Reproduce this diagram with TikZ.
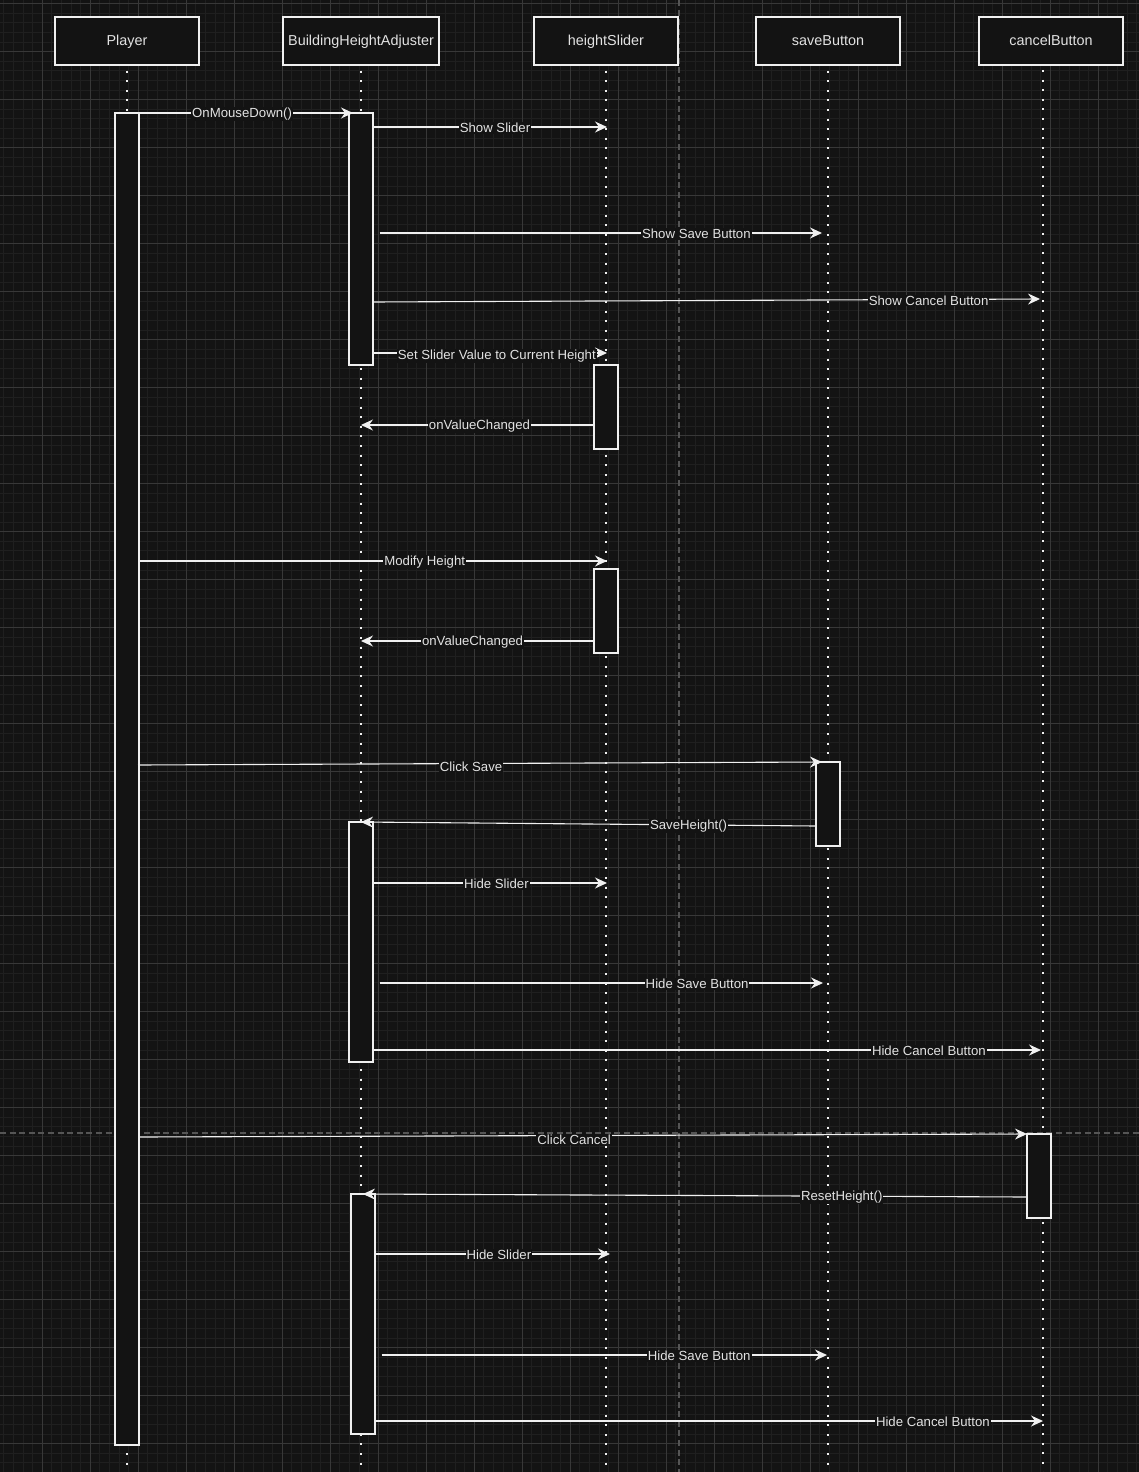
\documentclass[tikz,border=0pt]{standalone}
\usepackage{fontspec}
\setmainfont{Liberation Sans}
\usetikzlibrary{arrows.meta}
\definecolor{bgcol}{HTML}{131313}
\definecolor{gridminor}{HTML}{1F1F1F}
\definecolor{gridmajor}{HTML}{383838}
\definecolor{brkcol}{HTML}{555555}
\definecolor{linecol}{HTML}{F0F0F0}
\definecolor{txtcol}{HTML}{E2E2E2}

\begin{document}
\begin{tikzpicture}[x=1pt,y=-1pt,
  head/.style={draw=linecol, line width=1.3pt, fill=bgcol, minimum width=144pt,
    minimum height=48pt, inner sep=0pt, text height=12pt, text depth=2pt,
    text=txtcol, font=\fontsize{14.4}{16}\selectfont},
  act/.style={draw=linecol, line width=1.3pt, fill=bgcol, minimum width=24pt, inner sep=0pt},
  life/.style={linecol, line width=2pt, dash pattern=on 2pt off 7.6pt},
  msg/.style={linecol, line width=1.1pt, -{Stealth[length=12pt,width=11pt,inset=4pt]}},
  lbl/.style={fill=bgcol, text=txtcol, inner sep=1pt, yshift=-1pt, font=\fontsize{13.2}{15}\selectfont}]
  % background and grid
  \fill[bgcol] (0,0) rectangle (1139,1472);
  \useasboundingbox (0,0) rectangle (1139,1472);
  \foreach \i in {0,...,118} \draw[gridminor, line width=1pt] ({3.9+9.6*\i},0) -- ++(0,1472);
  \foreach \j in {0,...,152} \draw[gridminor, line width=1pt] (0,{3.7+9.6*\j}) -- ++(1139,0);
  \foreach \i in {0,...,22} \draw[gridmajor, line width=1pt] ({42.3+48*\i},0) -- ++(0,1472);
  \foreach \j in {0,...,30} \draw[gridmajor, line width=1pt] (0,{3.7+48*\j}) -- ++(1139,0);
  \draw[brkcol, line width=1.3pt, dash pattern=on 6pt off 3.6pt] (679,0) -- (679,1472);
  \draw[brkcol, line width=1.3pt, dash pattern=on 6pt off 3.6pt] (0,1133) -- (1139,1133);

  % lifelines
  \node[head] at (127,41) (player) {Player};
  \node[head, minimum width=156pt] at (361,41) (adjuster) {BuildingHeightAdjuster};
  \node[head] at (606,41) (slider) {heightSlider};
  \node[head] at (828,41) (save) {saveButton};
  \node[head] at (1051,41) (cancel) {cancelButton};
  \coordinate (bottom) at (0,1472);
  \draw[life] ([yshift=-5pt]player.south) -- (player.south |- bottom);
  \draw[life] ([yshift=-5pt]adjuster.south) -- (adjuster.south |- bottom);
  \draw[life] ([yshift=-5pt]slider.south) -- (slider.south |- bottom);
  \draw[life] ([yshift=-5pt]save.south) -- (save.south |- bottom);
  \draw[life] (1043,70) -- (1043,1472);

  % activations
  \node[act, minimum height=1332pt] at (127,779) (actP) {};
  \node[act, minimum height=252pt] at (361,239) (actA1) {};
  \node[act, minimum height=84pt] at (606,407) (actS1) {};
  \node[act, minimum height=84pt] at (606,611) (actS2) {};
  \node[act, minimum height=84pt] at (828,804) (actB) {};
  \node[act, minimum height=240pt] at (361,942) (actA2) {};
  \node[act, minimum height=84pt] at (1039,1176) (actC) {};
  \node[act, minimum height=240pt] at (363,1314) (actA3) {};

  % message ends
  \coordinate (m1) at (353,113);
  \coordinate (m2) at (607,127);
  \coordinate (m3) at (822,233);
  \coordinate (m4s) at (373,302);
  \coordinate (m4) at (1040,299);
  \coordinate (m5) at (607,353);
  \coordinate (m6) at (361,425);
  \coordinate (m7) at (607,561);
  \coordinate (m8) at (361,641);
  \coordinate (m9s) at (138,765);
  \coordinate (m9) at (822,762);
  \coordinate (m10s) at (816,826);
  \coordinate (m10) at (361,822);
  \coordinate (m11) at (607,883);
  \coordinate (m12) at (823,983);
  \coordinate (m13) at (1041,1050);
  \coordinate (m14s) at (139,1137);
  \coordinate (m14) at (1027,1134);
  \coordinate (m15s) at (1027,1197);
  \coordinate (m15) at (363,1194);
  \coordinate (m16) at (610,1254);
  \coordinate (m17) at (827,1355);
  \coordinate (m18) at (1043,1421);

  % messages
  \draw[msg] (actP.east |- m1) -- node[lbl, pos=.48] {OnMouseDown()} (m1);
  \draw[msg] (actA1.east |- m2) -- node[lbl, pos=.52] {Show Slider} (m2);
  \draw[msg] ([xshift=6pt]actA1.east |- m3) -- node[lbl, pos=.716] {Show Save Button} (m3);
  \draw[msg] (m4s) -- node[lbl, pos=.833] {Show Cancel Button} (m4);
  \draw[msg] (actA1.east |- m5) -- node[lbl, pos=.528, yshift=-2pt] {Set Slider Value to Current Height} (m5);
  \draw[msg] (actS1.west |- m6) -- node[lbl, pos=.49] {onValueChanged} (m6);
  \draw[msg] (actP.east |- m7) -- node[lbl, pos=.61] {Modify Height} (m7);
  \draw[msg] (actS2.west |- m8) -- node[lbl, pos=.52] {onValueChanged} (m8);
  \draw[msg] (m9s) -- node[lbl, pos=.487, yshift=-2pt] {Click Save} (m9);
  \draw[msg] (m10s) -- node[lbl, pos=.28] {SaveHeight()} (m10);
  \draw[msg] (actA2.east |- m11) -- node[lbl, pos=.526] {Hide Slider} (m11);
  \draw[msg] ([xshift=6pt]actA2.east |- m12) -- node[lbl, pos=.716] {Hide Save Button} (m12);
  \draw[msg] (actA2.east |- m13) -- node[lbl, pos=.832] {Hide Cancel Button} (m13);
  \draw[msg] (m14s) -- node[lbl, pos=.49, yshift=-3pt] {Click Cancel} (m14);
  \draw[msg] (m15s) -- node[lbl, pos=.279] {ResetHeight()} (m15);
  \draw[msg] (actA3.east |- m16) -- node[lbl, pos=.526] {Hide Slider} (m16);
  \draw[msg] ([xshift=6pt]actA3.east |- m17) -- node[lbl, pos=.713] {Hide Save Button} (m17);
  \draw[msg] (actA3.east |- m18) -- node[lbl, pos=.835] {Hide Cancel Button} (m18);
\end{tikzpicture}
\end{document}
